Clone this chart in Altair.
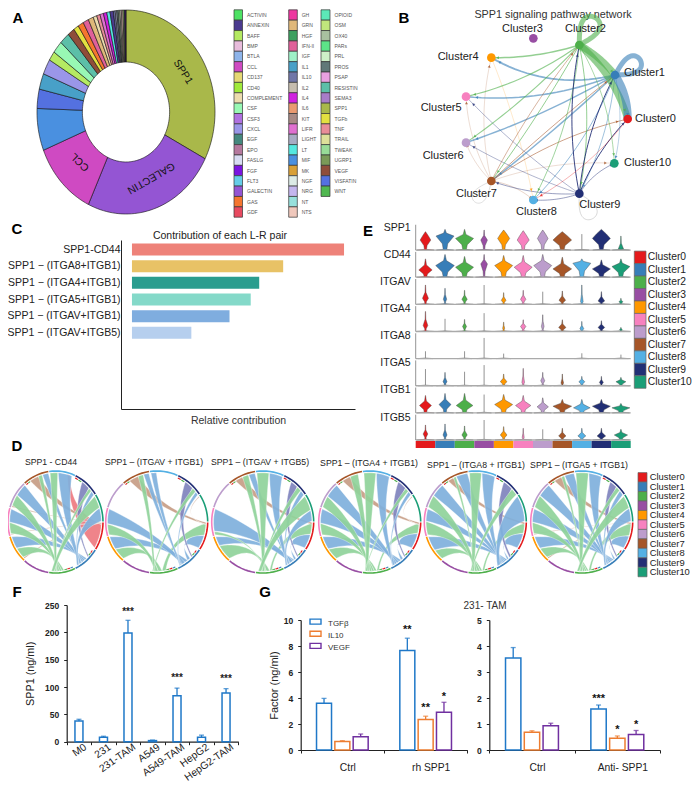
import math
import altair as alt
import pandas as pd

FONT = "Liberation Sans"
W, H = 684, 775

# ---------- shared palette ----------
CLUSTERS = ["Cluster0","Cluster1","Cluster2","Cluster3","Cluster4","Cluster5","Cluster6","Cluster7","Cluster8","Cluster9","Cluster10"]
CLUSTER_COLORS = ["#E41A1C","#377EB8","#4DAF4A","#984EA3","#FF9800","#F781BF","#BC9DCC","#A65628","#54B0E4","#222F75","#1B9E77"]

# ---------- A ----------
LEGEND_COL1 = ["ACTIVIN","ANNEXIN","BAFF","BMP","BTLA","CCL","CD137","CD40","COMPLEMENT","CSF","CSF3","CXCL","EGF","EPO","FASLG","FGF","FLT3","GALECTIN","GAS","GDF"]
LEGEND_COL2 = ["GH","GRN","HGF","IFN-II","IGF","IL1","IL10","IL2","IL4","IL6","KIT","LIFR","LIGHT","LT","MIF","MK","NGF","NRG","NT","NTS"]
LEGEND_COL3 = ["OPIOID","OSM","OX40","PARs","PRL","PROS","PSAP","RESISTIN","SEMA3","SPP1","TGFb","TNF","TRAIL","TWEAK","UGRP1","VEGF","VISFATIN","WNT"]
COLORS_COL1 = ["#4de264","#4b3b8f","#b5ea62","#e8bcdc","#8eb4ea","#cf4ac2","#e5d873","#a0ea3a","#ecdcae","#98f8b4","#b070e0","#9a96e8","#45887e","#b5799e","#d8dcf3","#7a14e0","#66cde8","#9455d3","#f5762f","#e84a60"]
COLORS_COL2 = ["#ee36a0","#e0b87a","#3ca060","#e0609a","#9ff0c8","#48a0c8","#7076a8","#c5bcae","#d020e0","#ea9a70","#a88a85","#e070d0","#a8acc4","#55e8e0","#4a90e0","#d8a038","#dcebe6","#c4b6ee","#98e0dc","#f0c8bc"]
COLORS_COL3 = ["#5ce8b8","#c0e67c","#a8c0a0","#5ce488","#cdf0c8","#607878","#e8a0e0","#5cbfa8","#a87cc8","#a9b84a","#e3e040","#e88c98","#dde09a","#98dc98","#7a9a58","#8f4d3a","#5471e0","#50b850"]
PIE_NAMES = ["SPP1","GALECTIN","CCL","MIF","VISFATIN","IL1","CXCL","BAFF","CSF","RESISTIN","VEGF","TGFb","GAS","IFN-II","GRN","COMPLEMENT","TNF","LIFR","IL4","LT","ANNEXIN","IL10","LIGHT","PROS","OX40","IL2","NTS","UGRP1","ANNEXIN","FGF"]
PIE_SHARES = [117.3,87.7,43,24,11,9,8.7,5.3,7,6.6,4.6,3.4,3.7,3.7,3.4,2.4,2.2,2.3,2.2,2.1,2.2,1.2,1.0,1.0,1.0,1.0,1.0,1.0,0.6,0.4]

# ---------- B ----------
NODE_X = [833,795,688,550,424,348,348,424,550,688,793]
NODE_Y = [357,225,135,115,173,290,428,543,600,581,490]
NODE_LABEL_X = [855,822,645,456,263,212,218,318,498,688,822]
NODE_LABEL_Y = [357,220,87,87,170,325,467,582,635,614,488]
EDGES = [(7,10,.4,.1),(9,10,.5,.15),(7,4,.4,.12),(7,5,.4,.12),(7,6,.4,.12),(7,8,.5,.15),(9,7,.5,.1),(9,8,.5,.1),(9,5,.4,.05),(9,6,.4,.05),(4,8,.4,.05),
         (2,4,1.5,.08),(1,4,1.8,.2),(2,5,1.2,.1),(1,5,1.6,.12),(2,6,1.1,.05),(1,6,1.4,.05),(2,7,1,.03),(1,7,1.5,.02),(7,1,1,.02),(7,0,1,.1),(7,2,.8,.05),
         (2,8,.9,.1),(1,8,.9,.1),(2,9,1,.1),(9,2,1,.1),(1,9,.8,.1),(9,1,1,.1),(9,0,1,.1),(0,8,.6,.1),(2,10,.8,.12),(1,10,.6,.12),
         (2,1,7,.1),(2,0,7,.15),(1,0,8,.15)]
LOOPS = [(2,47,-80,95,28,5),(1,75,-45,88,25,5),(9,42,79,85,25,.7),(7,-54,67,80,20,.6)]

# ---------- C ----------
PAIRS = ["SPP1-CD44","SPP1 \u2212 (ITGA8+ITGB1)","SPP1 \u2212 (ITGA4+ITGB1)","SPP1 \u2212 (ITGA5+ITGB1)","SPP1 \u2212 (ITGAV+ITGB1)","SPP1 \u2212 (ITGAV+ITGB5)","e1","e2","e3","e4"]
PAIR_VALUES = [1.0,.713,.6,.56,.46,.28,0,0,0,0]
PAIR_COLORS = ["#ee8279","#e8c266","#2a9d8f","#84d9c9","#7faddf","#b6cfee","#fff","#fff","#fff","#fff"]

# ---------- D ----------
CHORD_TITLES = ["SPP1 - CD44","SPP1 \u2013 (ITGAV + ITGB1)","SPP1 \u2013 (ITGAV + ITGB5)","SPP1 \u2013 (ITGA4 + ITGB1)","SPP1 \u2013 (ITGA8 + ITGB1)","SPP1 \u2013 (ITGA5 + ITGB1)"]
CODE_COLOR = {"b":"#7fb0dc","g":"#8fd29a","t":"#c79d85","n":"#7f83bd","r":"#ee7a80"}
CHORD_P1 = {0:[("t",.03),("r",.9)],10:[("g",.45),("b",.48)],9:[("n",.5),("g",.18),("b",.22)],8:[("g",.3),("b",.55)],7:[("t",.45),("g",.2),("b",.3)],6:[("t",.05),("g",.42),("b",.48)],5:[("t",.03),("g",.42),("b",.5)],4:[("t",.05),("g",.42),("b",.48)]}
CHORD_P2 = {0:[("g",.45),("b",.5)],10:[("t",.03)],9:[("n",.5),("g",.22),("b",.18)],8:[("b",.2)],7:[("t",.35),("g",.2),("b",.2)],5:[("g",.4),("b",.55)],4:[("g",.45),("b",.5)]}
CHORD_P3 = {0:[("g",.42),("b",.55)],10:[("g",.55),("b",.4)],9:[("n",.4),("g",.25),("b",.25)],8:[("g",.45),("b",.5)],7:[("t",.3),("g",.25),("b",.25)],5:[("g",.12),("b",.85)],4:[("g",.6),("b",.35)]}
CHORD_P4 = {0:[("g",.38),("b",.58)],10:[("t",.03)],9:[("n",.5),("g",.2),("b",.2)],8:[("g",.45),("b",.5)],7:[("t",.3),("g",.3)],6:[("g",.42),("b",.52)],5:[("g",.42),("b",.52)],4:[("g",.45),("b",.5)]}
CHORD_P5 = {0:[("g",.38),("b",.58)],10:[("b",.95)],9:[("n",.45),("g",.3)],8:[("g",.45),("b",.5)],7:[("t",.22),("g",.1),("b",.45)],6:[("g",.45),("b",.5)],5:[("g",.5),("b",.45)],4:[("g",.4),("b",.55)]}
CHORD_P6 = {0:[("g",.47),("b",.48)],10:[("g",.47),("b",.48)],9:[("n",.4),("g",.22),("b",.25)],8:[("g",.47),("b",.48)],7:[("t",.3),("g",.12),("b",.38)],6:[("g",.45),("b",.5)],5:[("t",.03),("g",.42),("b",.5)],4:[("t",.05),("g",.42),("b",.48)]}
CHORDS = [CHORD_P1,CHORD_P2,CHORD_P3,CHORD_P4,CHORD_P5,CHORD_P6]

# ---------- E (top, belly height, half width per cluster) ----------
GENES = ["SPP1","CD44","ITGAV","ITGA4","ITGA8","ITGA5","ITGB1","ITGB5"]
V_TOP = {"SPP1":[55,62,62,60,60,58,60,55,48,62,42],"CD44":[55,68,62,68,65,65,68,60,55,52,55],"ITGAV":[58,48,42,58,35,42,38,40,58,38,18],"ITGA4":[60,38,36,55,28,35,50,35,30,32,12],
         "ITGA8":[22,0,22,62,15,0,0,0,16,0,12],"ITGA5":[50,40,42,62,35,52,40,35,28,28,25],"ITGB1":[52,58,58,55,55,52,45,40,40,40,28],"ITGB5":[45,48,42,60,40,35,32,35,35,35,32]}
V_BELLY = {"SPP1":[30,42,35,30,35,30,35,30,0,35,3],"CD44":[22,35,30,40,35,30,35,25,42,25,32],"ITGAV":[18,15,15,0,12,15,0,12,8,10,8],"ITGA4":[18,0,15,0,10,15,15,12,8,12,6],
           "ITGA8":[0,0,0,0,0,0,0,0,0,0,0],"ITGA5":[0,12,0,0,12,10,15,8,12,10,12],"ITGB1":[22,25,22,0,25,22,18,20,15,20,15],"ITGB5":[18,15,15,0,15,8,0,12,12,12,15]}
V_HALF = {"SPP1":[16,27,27,10,18,18,16,28,0,27,8],"CD44":[20,28,27,10,27,27,27,28,27,27,27],"ITGAV":[9,5,8,0,7,8,0,10,4,10,6],"ITGA4":[7,0,6,0,3,8,4,11,6,10,4],
          "ITGA8":[0,0,0,0,0,0,0,0,0,0,0],"ITGA5":[0,6,0,0,10,4,6,4,9,6,15],"ITGB1":[18,18,25,0,27,23,17,28,25,27,27],"ITGB5":[7,6,8,0,10,3,0,11,12,13,20]}

# ---------- F ----------
F_CATS = ["M0","231","231-TAM","A549","A549-TAM","HepG2","HepG2-TAM"]
F_VALUES = [38,8,199,2,84,8,89]
F_ERR = [41,10,222,3,98,12,97]
F_STARS = ["","","***","","***","","***"]
F_STAR_Y = [0,0,238,0,116,0,114]

# ---------- G ----------
SERIES = ["TGF\u03b2","IL10","VEGF"]
SERIES_COLORS = ["#1f78c8","#ed7d31","#7030a0"]
G1_GROUPS = ["Ctrl","rh SPP1"]
G1_VALUES = [[3.6,.66,1.02],[7.65,2.35,2.9]]
G1_ERR = [[3.97,.72,1.23],[8.6,2.6,3.67]]
G1_STARS = [["","",""],["**","**","*"]]
G1_STAR_Y = [[0,0,0],[9.2,3.2,4.1]]
G2_GROUPS = ["Ctrl ","Anti- SPP1"]
G2_VALUES = [[3.54,.68,.93],[1.58,.45,.6]]
G2_ERR = [[3.94,.74,1.03],[1.73,.54,.75]]
G2_STARS = [["","",""],["***","*","*"]]
G2_STAR_Y = [[0,0,0],[1.97,.78,.97]]


def sx(v): return v - 8
def sy(v): return v - 8

L = []

def qx(f, dom, rng, **k):
    return alt.X(f, type="quantitative", scale=alt.Scale(domain=dom, range=[sx(rng[0]), sx(rng[1])], nice=False, zero=False), axis=k.pop("axis", None), title=None)
def qy(f, dom, rng, **k):
    return alt.Y(f, type="quantitative", scale=alt.Scale(domain=dom, range=[sy(rng[0]), sy(rng[1])], nice=False, zero=False), axis=k.pop("axis", None), title=k.pop("title", None))

def poly_layer(rows, xdom, xr, ydom, yr, **mk):
    d = pd.DataFrame(rows, columns=["id","i","x","y","c"])
    props = dict(interpolate="linear-closed", stroke="white", strokeWidth=.4, clip=False)
    props.update(mk)
    enc = dict(x=qx("x:Q", xdom, xr), y=qy("y:Q", ydom, yr), detail=alt.Detail("id:N"), order=alt.Order("i:Q"), fill=alt.Fill("c:N", scale=None))
    return alt.Chart(d).mark_line(**props).encode(**enc)

def texts(rows, align="left", weight="normal", color="#111", baseline="middle"):
    d = pd.DataFrame(rows, columns=["t","x","y","s","a"])
    d["x"] = d["x"] - 8
    d["y"] = d["y"] - 8
    return alt.Chart(d).mark_text(align=align, baseline=baseline, font=FONT, fontWeight=weight, color=color).encode(
        x=alt.X("x:Q", scale=None, axis=None), y=alt.Y("y:Q", scale=None, axis=None),
        text=alt.Text("t:N"), size=alt.Size("s:Q", scale=None), angle=alt.Angle("a:Q", scale=None))

# ---- panel letters
L.append(texts([["A",18,18,15,0],["B",404,18,15,0],["C",17,229,15,0],["E",368,231,15,0],["D",17,446,15,0],["F",17,592,15,0],["G",265,592,15,0]], align="center", weight="bold", color="#000"))

# ---- A: stretched donut, built from shares
color_of = dict(zip(LEGEND_COL1 + LEGEND_COL2 + LEGEND_COL3, COLORS_COL1 + COLORS_COL2 + COLORS_COL3))
rows = []
ang = 0.0
HOLE = .49
for k, (n, sh) in enumerate(zip(PIE_NAMES, PIE_SHARES)):
    steps = max(2, int(sh / 2))
    pts = [ang + sh * j / steps for j in range(steps + 1)]
    i = 0
    for a in pts:
        rows.append([f"s{k}", i, math.sin(math.radians(a)), math.cos(math.radians(a)), color_of[n]]); i += 1
    for a in reversed(pts):
        rows.append([f"s{k}", i, HOLE * math.sin(math.radians(a)), HOLE * math.cos(math.radians(a)), color_of[n]]); i += 1
    ang += sh
L.append(poly_layer(rows, [-1, 1], [37, 215], [-1, 1], [214, 10], stroke="#111", strokeWidth=.6))
L.append(texts([["SPP1",183,72,10.5,58],["GALECTIN",151,178,10.5,150],["CCL",80,162,10.5,224]], align="center"))

# legend A
for names, cols, x0, x1, lx in [(LEGEND_COL1, COLORS_COL1, 234, 242.5, 247), (LEGEND_COL2, COLORS_COL2, 288.7, 297.3, 301.7), (LEGEND_COL3, COLORS_COL3, 321, 330, 334.5)]:
    d = pd.DataFrame({"n": names, "c": cols})
    nrows = len(names)
    L.append(alt.Chart(d).mark_rect(stroke="#333", strokeWidth=.7).encode(
        x=alt.value(sx(x0)), x2=alt.value(sx(x1)),
        y=alt.Y("n:N", sort=None, axis=None, title=None, scale=alt.Scale(domain=names, range=[sy(9.8), sy(9.8 + nrows * 10.37)], paddingInner=0, paddingOuter=0)),
        fill=alt.Fill("c:N", scale=None)))
    L.append(texts([[n, lx, 15 + j * 10.37, 5, 0] for j, n in enumerate(names)], color="#555"))

# ---- B: network
L.append(texts([["SPP1 signaling pathway network",553,15,10.8,0]], align="center", color="#333"))
NX = ([0, 1050], [350, 700])
NY = ([0, 720], [0, 240])
rows = []
arrows = []
for k, (s, t, w, c) in enumerate(EDGES):
    x0, y0, x1, y1 = NODE_X[s], NODE_Y[s], NODE_X[t], NODE_Y[t]
    dx, dy = x1 - x0, y1 - y0
    cx, cy = (x0 + x1) / 2 + dy * c, (y0 + y1) / 2 - dx * c
    col = CLUSTER_COLORS[s]
    op = .6 if s in (1, 2) else (.9 if s == 9 else .55)
    if s in (4, 7) and w <= .5:
        op = .5
    pts = []
    for j in range(21):
        u = j / 20
        pts.append(((1-u)**2 * x0 + 2*u*(1-u) * cx + u*u * x1, (1-u)**2 * y0 + 2*u*(1-u) * cy + u*u * y1))
    for j, (a, b) in enumerate(pts):
        rows.append([f"e{k}", j, a, b, col, w, op])
    u = .93 if w < 3 else .9
    ax = (1-u)**2 * x0 + 2*u*(1-u) * cx + u*u * x1
    ay = (1-u)**2 * y0 + 2*u*(1-u) * cy + u*u * y1
    arrows.append([ax, ay, col, math.degrees(math.atan2(x1 - cx, -(y1 - cy))) % 360])
for k, (n, dxx, dyy, ln, wd, sw) in enumerate(LOOPS):
    m = math.hypot(dxx, dyy)
    ux, uy = dxx / m, dyy / m
    px, py = -uy, ux
    col = CLUSTER_COLORS[n] if sw > 1 else "#bbbbbb"
    for j in range(41):
        tt = math.pi * j / 40
        a = NODE_X[n] + ux * ln * math.sin(tt) + px * wd * math.sin(2 * tt)
        b = NODE_Y[n] + uy * ln * math.sin(tt) + py * wd * math.sin(2 * tt)
        rows.append([f"l{k}", j, a, b, col, sw, .6 if sw > 1 else .8])
ed = pd.DataFrame(rows, columns=["id","i","x","y","c","w","o"])
L.append(alt.Chart(ed).mark_line(clip=False).encode(
    x=qx("x:Q", *NX), y=qy("y:Q", *NY), detail=alt.Detail("id:N"), order=alt.Order("i:Q"),
    stroke=alt.Stroke("c:N", scale=None), strokeWidth=alt.StrokeWidth("w:Q", scale=None), opacity=alt.Opacity("o:Q", scale=None)))
ar = pd.DataFrame(arrows, columns=["x","y","c","a"])
L.append(alt.Chart(ar).mark_point(shape="triangle-up", filled=True, opacity=.8, size=9).encode(
    x=qx("x:Q", *NX), y=qy("y:Q", *NY), color=alt.Color("c:N", scale=None), angle=alt.Angle("a:Q", scale=None)))
nd = pd.DataFrame({"x": NODE_X, "y": NODE_Y, "c": CLUSTER_COLORS})
L.append(alt.Chart(nd).mark_circle(size=75, opacity=1).encode(x=qx("x:Q", *NX), y=qy("y:Q", *NY), color=alt.Color("c:N", scale=None)))
L.append(texts([[n, 350 + x / 3, y / 3, 11, 0] for n, x, y in zip(CLUSTERS, NODE_LABEL_X, NODE_LABEL_Y)], color="#222"))

# ---- C: bars
L.append(texts([["Contribution of each L-R pair",220,236,10.5,0]], align="center", color="#222"))
cd = pd.DataFrame({"p": PAIRS, "v": PAIR_VALUES, "c": PAIR_COLORS, "z": [0] * len(PAIRS)})
L.append(alt.Chart(cd).mark_rect().encode(
    x=alt.X("v:Q", scale=alt.Scale(domain=[-.0517, 1.0517], range=[sx(121), sx(355)], nice=False, zero=False), title="Relative contribution",
            axis=alt.Axis(orient="bottom", offset=-(H - sy(409)), ticks=False, labels=False, grid=False, domainColor="#222", domainWidth=1, titleFont=FONT, titleFontSize=10.5, titleFontWeight="normal", titleColor="#333", titlePadding=6)),
    x2=alt.X2("z:Q"),
    y=alt.Y("p:N", sort=None, title=None, scale=alt.Scale(domain=PAIRS, range=[sy(240), sy(409)], paddingInner=.28, paddingOuter=.21),
            axis=alt.Axis(orient="left", offset=-sx(121), values=PAIRS[:6], ticks=False, grid=False, domainColor="#222", domainWidth=1, labelFont=FONT, labelFontSize=10.5, labelColor="#222", labelPadding=1, labelLimit=200)),
    fill=alt.Fill("c:N", scale=None)))

# ---- D: chord panels
CENTERS = [(55.5, 47.5), (156.7, 51), (262.7, 51), (369.7, 51), (475.3, 51), (581.7, 51)]
SEC = 360 / 11
def sa(sec, frac):
    return 90 + sec * SEC + .5 + frac * (SEC - 1)
def pol(a, r=1.0):
    return r * math.sin(math.radians(a)), r * math.cos(math.radians(a))
# sector, start fraction and total fraction taken by the narrow ends of each sender's ribbons
NARROW = {"b": (1, .45, .52), "g": (2, .42, .56), "t": (0, .0, .08), "n": (1, .33, .1), "r": (8, .72, .1)}
SECTOR_START = {7: .22, 9: .33}
PULL = .5
TICKS = {1: [(.08,.18,"#E41A1C"),(.2,.3,"#4DAF4A")], 2: [(.05,.15,"#377EB8"),(.17,.28,"#E41A1C"),(.3,.4,"#4DAF4A")], 7: [(.02,.1,"#E41A1C"),(.11,.2,"#4DAF4A")], 9: [(.02,.14,"#E41A1C"),(.17,.3,"#4DAF4A")]}
def curve(p0, p1, u):
    c = (PULL * (p0[0] + p1[0]) / 2, PULL * (p0[1] + p1[1]) / 2)
    return ((1-u)**2 * p0[0] + 2*u*(1-u) * c[0] + u*u * p1[0], (1-u)**2 * p0[1] + 2*u*(1-u) * c[1] + u*u * p1[1])
for (cx, rx), table in zip(CENTERS, CHORDS):
    rows = []
    used = {}
    totals = {}
    for parts in table.values():
        for code, share in parts:
            totals[code] = totals.get(code, 0) + share
    rid = 0
    for sec, parts in sorted(table.items()):
        pos = SECTOR_START.get(sec, .03)
        total = sum(p[1] for p in parts) + .02 * (len(parts) - 1)
        fit = min(1.0, (.98 - pos) / total)
        for code, share in parts:
            share = share * fit
            a1, a2 = sa(sec, pos), sa(sec, pos + share)
            pos += share + .02
            ns, nf, nt = NARROW[code]
            off = used.get(code, 0.0)
            nw = max(.008, share * fit / totals[code] * nt)
            used[code] = off + nw
            b1, b2 = sa(ns, nf + off), sa(ns, nf + off + nw)
            i = 0
            col = CODE_COLOR[code]
            R = .965
            for j in range(7):
                rows.append([f"r{rid}", i, *pol(a1 + (a2 - a1) * j / 6, R), col]); i += 1
            for j in range(1, 16):
                rows.append([f"r{rid}", i, *curve(pol(a2, R), pol(b1, R), j / 16), col]); i += 1
            for j in range(3):
                rows.append([f"r{rid}", i, *pol(b1 + (b2 - b1) * j / 2, R), col]); i += 1
            for j in range(1, 16):
                rows.append([f"r{rid}", i, *curve(pol(b2, R), pol(a1, R), j / 16), col]); i += 1
            rid += 1
    L.append(poly_layer(rows, [-1, 1], [cx - rx, cx + rx], [-1, 1], [522 + 51, 522 - 51], fillOpacity=.92, strokeWidth=.35))
    ring = []
    for sec in range(11):
        for j in range(9):
            ring.append([f"k{sec}", j, *pol(sa(sec, j / 8)), CLUSTER_COLORS[sec], 1.6])
    for sec, tk in TICKS.items():
        for m, (f1, f2, c) in enumerate(tk):
            for j in range(3):
                ring.append([f"t{sec}{m}", j, *pol(sa(sec, f1 + (f2 - f1) * j / 2), .955), c, 1.1])
    rd = pd.DataFrame(ring, columns=["id","i","x","y","c","w"])
    L.append(alt.Chart(rd).mark_line(clip=False).encode(
        x=qx("x:Q", [-1, 1], [cx - rx, cx + rx]), y=qy("y:Q", [-1, 1], [522 + 51, 522 - 51]),
        detail=alt.Detail("id:N"), order=alt.Order("i:Q"), stroke=alt.Stroke("c:N", scale=None), strokeWidth=alt.StrokeWidth("w:Q", scale=None)))
L.append(texts([[t, x, y, 8.7, 0] for t, x, y in zip(CHORD_TITLES, [51,154,260,369,476,579], [462,462,462,463,465,465])], align="center", color="#222"))

# ---- legends E and D (kept inside the drawable page width)
for x0, x1, lx, y0, step, fs in [(634.3, 646, 647.7, 251.1, 12.47, 10.3), (638, 647, 649.7, 472.6, 9.47, 9.4)]:
    d = pd.DataFrame({"n": CLUSTERS, "c": CLUSTER_COLORS})
    L.append(alt.Chart(d).mark_rect(stroke="#666", strokeWidth=.7).encode(
        x=alt.value(sx(x0)), x2=alt.value(sx(x1)),
        y=alt.Y("n:N", sort=None, axis=None, title=None, scale=alt.Scale(domain=CLUSTERS, range=[sy(y0), sy(y0 + 11 * step)], paddingInner=0, paddingOuter=0)),
        fill=alt.Fill("c:N", scale=None)))
    L.append(texts([[n, lx, y0 + step * (j + .5), fs, 0] for j, n in enumerate(CLUSTERS)], color="#222"))

# ---- E: violins
ROW = 81.4
EX = ([0, 11], [415.7, 630.7])
EY = ([0, 8 * ROW], [440, 440 - 8 * 27.13])
COLW = 58.6
vr, vg = [], []
for gi, g in enumerate(GENES):
    base = (7 - gi) * ROW
    for ci in range(11):
        top, belly, half = V_TOP[g][ci], V_BELLY[g][ci], V_HALF[g][ci]
        if top == 0:
            continue
        vid = f"{g}{ci}"
        mid = ci + .5
        if half == 0:
            vg.append([vid, 0, mid, base, "#888888"])
            vg.append([vid, 1, mid, base + top, "#888888"])
            vr.append([vid + "b", 0, mid - 22 / COLW, base, "#999999"])
            vr.append([vid + "b", 1, mid, base + 2, "#999999"])
            vr.append([vid + "b", 2, mid + 22 / COLW, base, "#999999"])
            continue
        prof = [(0, 26), (2, max(2, half * .2)), (max(3, belly * .45), max(1.5, half * .3)), (belly, half), (belly + .45 * (top - belly), max(1, half * .15)), (top, .4)]
        if g == "SPP1" and ci in (0, 4, 5, 6, 7, 9):
            prof[4] = (belly + .5 * (top - belly), half * .55)
        col = CLUSTER_COLORS[ci]
        i = 0
        for y, w in prof:
            vr.append([vid, i, mid - w / COLW, base + y, col]); i += 1
        for y, w in reversed(prof):
            vr.append([vid, i, mid + w / COLW, base + y, col]); i += 1
L.append(poly_layer(vr, *EX, *EY, stroke="#444", strokeWidth=.4))
vd = pd.DataFrame(vg, columns=["id","i","x","y","c"])
L.append(alt.Chart(vd).mark_line(stroke="#888888", strokeWidth=.9).encode(x=qx("x:Q", *EX), y=qy("y:Q", *EY), detail=alt.Detail("id:N"), order=alt.Order("i:Q")))
bd = pd.DataFrame({"g": GENES, "y": [(7 - i) * ROW for i in range(8)], "y2": [(7 - i) * ROW + 76 for i in range(8)], "x0": [0] * 8, "x1": [11] * 8})
L.append(alt.Chart(bd).mark_rule(color="#aaaaaa", strokeWidth=1.3).encode(x=qx("x0:Q", *EX), x2=alt.X2("x1:Q"), y=qy("y:Q", *EY)))
L.append(alt.Chart(bd).mark_rule(color="#777777", strokeWidth=.8).encode(x=qx("x0:Q", *EX), y=qy("y:Q", *EY), y2=alt.Y2("y2:Q")))
L.append(texts([[g, 410.7, 227.5 + i * 27.15, 10.5, 0] for i, g in enumerate(GENES)], align="right", color="#222"))
cb = pd.DataFrame({"n": CLUSTERS, "c": CLUSTER_COLORS})
L.append(alt.Chart(cb).mark_rect().encode(
    x=alt.X("n:N", sort=None, axis=None, title=None, scale=alt.Scale(domain=CLUSTERS, range=[sx(415.7), sx(630.7)], paddingInner=0, paddingOuter=0)),
    y=alt.value(sy(441)), y2=alt.value(sy(448)), fill=alt.Fill("c:N", scale=None)))

# ---- F
FB = "#1f78c8"
fd = pd.DataFrame({"cat": F_CATS, "v": F_VALUES, "e": F_ERR, "s": F_STARS, "sy": F_STAR_Y})
FY = ([0, 250], [741.7, 605])
def fx(axis=None):
    return alt.X("cat:N", sort=None, title=None, axis=axis, scale=alt.Scale(domain=F_CATS, range=[sx(66.7), sx(238.3)], paddingInner=0, paddingOuter=0))
L.append(alt.Chart(fd).mark_rule(color=FB, strokeWidth=1.3).encode(x=fx(), y=qy("v:Q", *FY), y2=alt.Y2("e:Q")))
L.append(alt.Chart(fd).mark_tick(color=FB, thickness=1.3, size=5, orient="horizontal").encode(x=fx(), y=qy("e:Q", *FY)))
L.append(alt.Chart(fd).mark_bar(fill="white", stroke=FB, strokeWidth=1.5, size=8).encode(
    x=fx(alt.Axis(orient="bottom", offset=-(H - sy(741.7)), labelAngle=-35, labelAlign="right", labelBaseline="middle", tickBand="extent", tickSize=3, tickColor="#222", domainColor="#222", domainWidth=1.2, labelFont=FONT, labelFontSize=10.3, labelColor="#222", labelPadding=1, labelLimit=200, labelOverlap=False, labelFlush=False, labelOffset=6)),
    y=qy("v:Q", *FY, title="SPP1 (ng/ml)", axis=alt.Axis(orient="left", offset=-sx(66.7), values=[0,50,100,150,200,250], tickSize=3, tickColor="#222", domainColor="#222", domainWidth=1.2, grid=False, labelFont=FONT, labelFontSize=8.5, labelFontWeight="bold", labelColor="#222", labelPadding=5, titleFont=FONT, titleFontSize=10.8, titleFontWeight="normal", titleColor="#222", titlePadding=9))))
L.append(alt.Chart(fd[fd.s != ""]).mark_text(font=FONT, fontSize=10, color="#222", fontWeight="bold").encode(x=fx(), y=qy("sy:Q", *FY), text=alt.Text("s:N")))

# ---- G
def g_panel(groups, values, err, stars, stary, xr, yd, yr, tickvals, title=None):
    rows = []
    for gi, g in enumerate(groups):
        for si, s in enumerate(SERIES):
            p = gi + .5 + (si - 1) * .22
            rows.append([g, s, p, p - .09, p + .09, values[gi][si], err[gi][si], stars[gi][si], stary[gi][si], SERIES_COLORS[si], 0])
    d = pd.DataFrame(rows, columns=["g","s","p","p0","p1","v","e","st","sy","c","z"])
    X = ([0, 2], xr)
    Y = (yd, yr)
    L.append(alt.Chart(d).mark_rule(strokeWidth=1.3).encode(x=qx("p:Q", *X), y=qy("v:Q", *Y), y2=alt.Y2("e:Q"), color=alt.Color("c:N", scale=None)))
    L.append(alt.Chart(d).mark_tick(thickness=1.3, size=5, orient="horizontal").encode(x=qx("p:Q", *X), y=qy("e:Q", *Y), color=alt.Color("c:N", scale=None)))
    L.append(alt.Chart(d).mark_rect(fill="white", strokeWidth=1.5).encode(x=qx("p0:Q", *X), x2=alt.X2("p1:Q"), y=qy("v:Q", *Y), y2=alt.Y2("z:Q"), stroke=alt.Stroke("c:N", scale=None)))
    L.append(alt.Chart(d[d.st != ""]).mark_text(font=FONT, fontSize=11, color="#111", fontWeight="bold").encode(x=qx("p:Q", *X), y=qy("sy:Q", *Y), text=alt.Text("st:N")))
    ax = pd.DataFrame({"g": groups, "v": [0, 0]})
    yaxis = alt.Axis(orient="left", offset=-sx(xr[0]), values=tickvals, tickSize=3, tickColor="#222", domainColor="#222", domainWidth=1.2, grid=False, labelFont=FONT, labelFontSize=8.5, labelFontWeight="bold", labelColor="#222", labelPadding=5,
                     titleFont=FONT, titleFontSize=11, titleFontWeight="normal", titleColor="#222", titlePadding=4)
    L.append(alt.Chart(ax).mark_point(opacity=0).encode(
        x=alt.X("g:N", sort=None, title=None, scale=alt.Scale(domain=groups, range=[sx(xr[0]), sx(xr[1])], paddingInner=0, paddingOuter=0),
                axis=alt.Axis(orient="bottom", offset=-(H - sy(yr[0])), labelAngle=0, tickBand="extent", tickSize=3, tickColor="#222", domainColor="#222", domainWidth=1.2, labelFont=FONT, labelFontSize=10.3, labelColor="#222", labelPadding=9, labelOffset=5)),
        y=alt.Y("v:Q", title=title, scale=alt.Scale(domain=yd, range=[sy(yr[0]), sy(yr[1])], nice=False, zero=False), axis=yaxis)))

g_panel(G1_GROUPS, G1_VALUES, G1_ERR, G1_STARS, G1_STAR_Y, [300.7, 467.3], [0, 10], [750, 620], [0,2,4,6,8,10], "Factor (ng/ml)")
g_panel(G2_GROUPS, G2_VALUES, G2_ERR, G2_STARS, G2_STAR_Y, [489.3, 660], [0, 5], [750, 620], [0,1,2,3,4,5])
gl = pd.DataFrame({"s": SERIES, "c": SERIES_COLORS})
L.append(alt.Chart(gl).mark_rect(fill="white", strokeWidth=1.4, height=5).encode(
    x=alt.value(sx(310)), x2=alt.value(sx(321)),
    y=alt.Y("s:N", sort=None, axis=None, title=None, scale=alt.Scale(domain=SERIES, range=[sy(615.5), sy(652)], paddingInner=0, paddingOuter=0)),
    stroke=alt.Stroke("c:N", scale=None)))
L.append(texts([[s, 328, 623.7 + j * 12.3, 8, 0] for j, s in enumerate(SERIES)], color="#333"))
L.append(texts([["231- TAM", 485, 606, 10, 0]], align="center", color="#333"))

chart = alt.layer(*L).resolve_scale(x="independent", y="independent").properties(
    width=W, height=H, padding=0, autosize="none", background="white"
).configure_view(stroke=None)
chart.save("out.html", embed_options={"renderer": "svg", "actions": False})
